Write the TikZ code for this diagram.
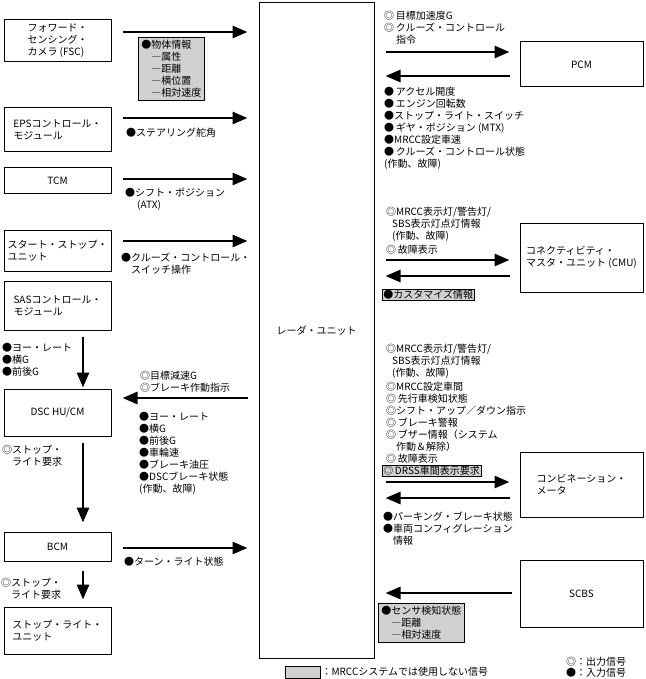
\documentclass[tikz,border=0pt]{standalone}
\usepackage{fontspec}
\setmainfont{Noto Sans CJK JP}
\usetikzlibrary{arrows.meta,positioning}

\begin{document}
\begin{tikzpicture}[
  x=1pt,y=-1pt,
  font=\fontsize{10}{12}\selectfont,
  unit/.style={draw,line width=1pt,inner sep=2pt,align=left},
  lunit/.style={unit,minimum width=107pt},
  runit/.style={unit,minimum width=123pt},
  sig/.style={-{Triangle[length=15pt,width=12pt]},line width=2.8pt},
  lbl/.style={anchor=north west,align=left,inner sep=0pt},
  unused/.style={lbl,draw,line width=0.6pt,fill=black!18,inner sep=3pt},
]
  \useasboundingbox (0,0) rectangle (645,679);

  % units on the left
  \node[lunit,minimum height=42pt] (fsc) at (57.5,41) {フォワード・\\センシング・\\カメラ (FSC)};
  \node[lunit,minimum height=44pt] (eps) at (57.5,130) {EPSコントロール・\\モジュール};
  \node[lunit,minimum height=25pt] (tcm) at (57.5,180.5) {TCM};
  \node[lunit,minimum height=41pt] (ssu) at (57.5,250.5) {スタート・ストップ・\\ユニット};
  \node[lunit,minimum height=49pt] (sas) at (57.5,305.5) {SASコントロール・\\モジュール};
  \node[lunit,minimum height=47pt] (dsc) at (57.5,412.5) {DSC HU/CM};
  \node[lunit,minimum height=29pt] (bcm) at (57.5,546.5) {BCM};
  \node[lunit,minimum height=47pt] (slu) at (57.5,630.5) {ストップ・ライト・\\ユニット};

  % radar unit
  \node[unit,minimum width=115pt,minimum height=655pt] (radar) at (316.5,330.5) {レーダ・ユニット};

  % units on the right
  \node[runit,minimum height=45pt] (pcm) at (581.5,64.5) {PCM};
  \node[runit,minimum height=69pt] (cmu) at (581.5,257.5) {コネクティビティ・\\マスタ・ユニット (CMU)};
  \node[runit,minimum height=65pt] (cmb) at (581.5,484.5) {コンビネーション・\\メータ};
  \node[runit,minimum height=67pt] (scbs) at (581.5,593.5) {SCBS};

  % signals, left side
  \draw[sig,shorten <=11pt,shorten >=11pt] (fsc.east |- 0,32) -- (radar.west |- 0,32);
  \draw[sig,shorten <=11pt,shorten >=11pt] (eps.east |- 0,118) -- (radar.west |- 0,118);
  \draw[sig,shorten <=11pt,shorten >=11pt] (tcm.east |- 0,179) -- (radar.west |- 0,179);
  \draw[sig,shorten <=11pt,shorten >=11pt] (ssu.east |- 0,241) -- (radar.west |- 0,241);
  \draw[sig,shorten <=11pt,shorten >=11pt] (radar.west |- 0,398) -- (dsc.east |- 0,398);
  \draw[sig,shorten <=11pt,shorten >=11pt] (bcm.east |- 0,548) -- (radar.west |- 0,548);
  \draw[sig,shorten <=6pt,shorten >=1pt] (sas.south -| 83,0) -- (dsc.north -| 83,0);
  \draw[sig,shorten <=6pt,shorten >=9pt] (dsc.south -| 83,0) -- (bcm.north -| 83,0);
  \draw[sig,shorten <=9pt,shorten >=7pt] (bcm.south -| 83,0) -- (slu.north -| 83,0);

  % signals, right side
  \draw[sig,shorten <=11pt,shorten >=10pt] (radar.east |- 0,52) -- (pcm.west |- 0,52);
  \draw[sig,shorten <=10pt,shorten >=11pt] (pcm.west |- 0,76) -- (radar.east |- 0,76);
  \draw[sig,shorten <=11pt,shorten >=10pt] (radar.east |- 0,260) -- (cmu.west |- 0,260);
  \draw[sig,shorten <=10pt,shorten >=11pt] (cmu.west |- 0,276) -- (radar.east |- 0,276);
  \draw[sig,shorten <=11pt,shorten >=10pt] (radar.east |- 0,482) -- (cmb.west |- 0,482);
  \draw[sig,shorten <=10pt,shorten >=11pt] (cmb.west |- 0,498) -- (radar.east |- 0,498);
  \draw[sig,shorten <=8pt,shorten >=11pt] (scbs.west |- 0,593) -- (radar.east |- 0,593);

  % signal names, left side
  \node[unused] (fscin) at (138,37) {●物体情報\\\hspace*{1em}―属性\\\hspace*{1em}―距離\\\hspace*{1em}―横位置\\\hspace*{1em}―相対速度};
  \node[lbl] (epsin) at (126,128) {●ステアリング舵角};
  \node[lbl] (tcmin) at (125,188) {●シフト・ポジション\\\hspace*{1.2em}(ATX)};
  \node[lbl] (ssuin) at (121,253) {●クルーズ・コントロール・\\\hspace*{1em}スイッチ操作};
  \node[lbl] (sasout) at (2,343) {●ヨー・レート\\●横G\\●前後G};
  \node[lbl] (dscout) at (140,371) {◎目標減速G\\◎ブレーキ作動指示};
  \node[lbl] (dscin) at (139,412) {●ヨー・レート\\●横G\\●前後G\\●車輪速\\●ブレーキ油圧\\●DSCブレーキ状態\\(作動、故障)};
  \node[lbl] (dscreq) at (2,445) {◎ストップ・\\\hspace*{1em}ライト要求};
  \node[lbl] (bcmin) at (124,557) {●ターン・ライト状態};
  \node[lbl] (bcmreq) at (1,578) {◎ストップ・\\\hspace*{1em}ライト要求};

  % signal names, right side
  \node[lbl] (pcmout) at (384,11) {◎\,目標加速度G\\◎\,クルーズ・コントロール\\\hspace*{1.2em}指令};
  \node[lbl] (pcmin) at (384,87) {●\,アクセル開度\\●\,エンジン回転数\\●ストップ・ライト・スイッチ\\●\,ギヤ・ポジション (MTX)\\●MRCC設定車速\\●\,クルーズ・コントロール状態\\(作動、故障)};
  \node[lbl] (cmuout) at (386,207) {◎MRCC表示灯/警告灯/\\\hspace*{0.6em}SBS表示灯点灯情報\\\hspace*{0.6em}(作動、故障)\\[2pt]◎\,故障表示};
  \node[unused,anchor=west,inner sep=1pt] (cmuin) at (382,295) {●カスタマイズ情報};
  \node[lbl] (cmbout) at (386,344) {◎MRCC表示灯/警告灯/\\\hspace*{0.6em}SBS表示灯点灯情報\\\hspace*{0.6em}(作動、故障)\\[2pt]◎MRCC設定車間\\◎\,先行車検知状態\\◎シフト・アップ／ダウン指示\\◎\,ブレーキ警報\\◎\,ブザー情報（システム\\\hspace*{1em}作動＆解除）\\◎\,故障表示};
  \node[unused,anchor=west,inner sep=1pt] (cmbdrss) at (382,471) {◎\,DRSS車間表示要求};
  \node[lbl] (cmbin) at (383,512) {●パーキング・ブレーキ状態\\●車両コンフィグレーション\\\hspace*{1em}情報};
  \node[unused] (scbsin) at (378,603) {●センサ検知状態\\\hspace*{1em}―距離\\\hspace*{1em}―相対速度};

  % legend
  \node[draw,line width=0.6pt,fill=black!18,minimum width=35pt,minimum height=12pt,inner sep=0pt] (key) at (302.5,672) {};
  \node[right=1pt of key,inner sep=0pt] (keytxt) {：MRCCシステムでは使用しない信号};
  \node[lbl,font=\fontsize{10}{11}\selectfont] (sym) at (566,657) {◎：出力信号\\●：入力信号};
\end{tikzpicture}
\end{document}
